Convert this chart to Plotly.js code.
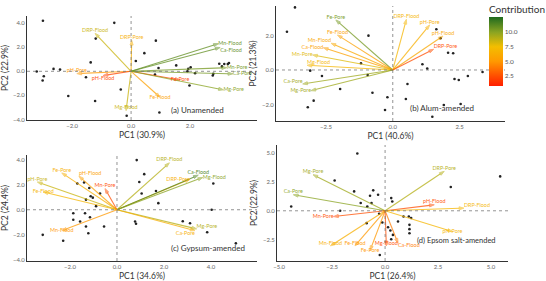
<!DOCTYPE html>
<html><head><meta charset="utf-8">
<script src="https://cdn.plot.ly/plotly-3.0.1.min.js"></script>
<style>html,body{margin:0;padding:0;background:#fff}#chart{width:546px;height:281px}</style>
</head><body><div id="chart"></div>
<script>
// ---------- Panel (a) Unamended ----------
const aNames = ['DRP-Flood','DRP-Pore','pH-Pore','pH-Flood','Mg-Flood','Fe-Flood','Fe-Pore','Mn-Flood','Ca-Flood','Mn-Pore','Ca-Pore','Mg-Pore'];
const aLoadX = [-1.22, 0.02, -1.84, -0.95, -0.17, 0.98, 1.66, 2.96, 3.02, 3.24, 3.45, 3.13];
const aLoadY = [3.16, 2.58, -0.19, -0.35, -3.27, -2.16, -0.72, 2.30, 1.98, 0.30, -0.21, -1.54];
const aContrib = [8.5, 6.5, 5.0, 2.2, 8.5, 5.5, 2.2, 11.0, 11.0, 10.5, 10.5, 10.0];
const aScoreX = [-2.99,-0.57,-1.20,0.84,0.45,0.16,-1.37,-2.63,-2.41,-3.20,-2.96,-3.00,-1.53,0.93,0.81,1.53,1.91,2.02,1.98,-2.13,-1.22,-0.35,-0.15,0.96,1.94,2.99,3.16,3.28,3.08,2.79,2.17,2.77,3.32];
const aScoreY = [4.20,4.03,2.72,2.55,1.51,0.86,0.74,0.20,0.14,-0.02,-0.41,-0.77,-0.49,0.28,-0.27,0.49,0.00,0.33,-1.18,-2.06,-2.47,-1.51,-3.70,-3.42,0.20,0.63,0.61,0.61,0.41,-0.21,-0.16,-0.35,0.69];

// ---------- Panel (b) Alum-amended ----------
const bNames = ['Fe-Pore','Fe-Flood','Mn-Flood','Ca-Flood','Mn-Pore','Mg-Flood','Ca-Pore','Mg-Pore','DRP-Flood','pH-Pore','pH-Flood','DRP-Pore'];
const bLoadX = [-2.13,-2.07,-2.31,-2.60,-3.00,-3.21,-3.37,-3.06,0.51,1.38,1.88,1.53];
const bLoadY = [2.90,2.03,1.55,1.29,0.87,0.27,-0.81,-1.20,2.94,2.61,1.97,1.20];
const bContrib = [10.5, 5.5, 6.0, 5.5, 8.0, 7.0, 9.5, 9.5, 7.0, 6.5, 6.0, 2.5];
const bScoreX = [-3.66,-3.96,-0.91,-1.19,-0.94,-2.65,-3.09,-1.97,-0.76,-2.96,-3.18,-0.20,0.49,-0.29,0.55,1.11,1.29,1.63,1.79,2.07,2.26,2.31,2.47,1.91,2.54,1.48,2.81,3.36];
const bScoreY = [3.63,2.22,1.99,0.39,-0.29,-0.35,-0.04,-1.10,-1.32,-1.78,-2.16,-1.58,-1.68,-2.32,-0.81,0.33,0.08,2.36,1.84,1.00,0.97,-0.52,-0.58,-2.03,-1.97,-2.71,-0.35,-0.12];

// ---------- Panel (c) Gypsum-amended ----------
const cNames = ['DRP-Flood','DRP-Pore','Ca-Flood','Mg-Flood','Mg-Pore','Ca-Pore','Fe-Pore','pH-Flood','Mn-Pore','pH-Pore','Fe-Flood','Mn-Flood'];
const cLoadX = [2.23, 3.10, 3.46, 3.65, 3.39, 3.32, -2.35, -1.62, -0.51, -3.39, -3.14, -2.35];
const cLoadY = [3.77, 2.45, 2.78, 2.59, -1.54, -1.68, 2.96, 2.70, 1.70, 2.23, 1.43, -1.68];
const cContrib = [9.0, 6.5, 11.5, 10.0, 9.0, 6.5, 6.5, 5.5, 2.5, 8.5, 7.0, 5.0];
const cScoreX = [0.84,1.16,0.95,1.05,1.66,1.76,0.77,0.81,-1.69,-1.40,-1.18,-1.12,-1.03,-1.32,-0.89,-0.72,-1.86,-1.86,-1.57,-1.36,-1.15,-1.32,-1.22,-0.55,-3.16,-2.29,2.80,3.11,4.10,4.03,5.06,3.84];
const cScoreY = [3.99,2.86,2.23,1.30,1.51,0.53,-0.95,-1.13,2.11,2.19,1.75,1.08,0.97,0.81,0.29,1.30,-0.28,-0.81,-0.95,-0.28,-0.60,-1.35,-1.89,-1.35,-2.02,-2.49,-0.92,-1.09,2.11,0.00,-2.70,-1.81];

// ---------- Panel (d) Epsom salt-amended ----------
const dNames = ['Mg-Pore','Ca-Pore','Mn-Pore','Mn-Flood','Fe-Flood','Fe-Pore','Mg-Flood','Ca-Flood','DRP-Pore','pH-Flood','DRP-Flood','pH-Pore'];
const dLoadX = [-3.40,-4.33,-2.43,-2.58,-1.42,-0.71,0.06,0.61,2.79,2.32,3.72,3.18];
const dLoadY = [3.13,1.39,-0.50,-3.04,-3.04,-3.45,-3.04,-2.81,3.42,0.52,0.23,-1.80];
const dContrib = [9.5, 10.0, 2.5, 6.5, 5.0, 5.0, 2.5, 4.0, 9.0, 2.5, 7.0, 7.0];
const dScoreX = [-1.31,-2.38,-1.46,-1.15,-0.71,-0.56,-0.33,-0.64,-0.84,0.29,0.34,-2.12,-0.87,-0.28,-0.13,0.14,0.25,0.37,0.87,1.12,1.23,1.15,1.15,1.15,0.61,0.29,-0.25,3.10,-4.43,5.43];
const dScoreY = [4.96,2.63,1.68,0.67,1.30,1.77,1.39,0.67,0.37,1.10,0.81,0.00,-1.07,-0.26,-1.02,-1.42,-1.71,-2.09,-0.50,-0.50,-0.63,-1.22,-1.59,-1.94,-0.93,-2.46,-3.83,2.06,0.37,2.98];

// ---------- tick labels / titles ----------
const aXTicks = [-2, 0, 2], aYTicks = [-4, -2, 0, 2, 4];
const bXTicks = [-2.5, 0, 2.5], bYTicks = [-2, 0, 2];
const cXTicks = [-2, 0, 2, 4], cYTicks = [-4, -2, 0, 2, 4];
const dXTicks = [-5, -2.5, 0, 2.5, 5], dYTicks = [-2.5, 0, 2.5, 5];
const cbTicks = [2.5, 5, 7.5, 10];
const pcTitles = {a:['PC1 (30.9%)','PC2 (22.9%)'], b:['PC1 (40.6%)','PC2 (21.3%)'], c:['PC1 (34.6%)','PC2 (24.4%)'], d:['PC1 (26.4%)','PC2 (22.9%)']};
const panelLabels = ['(a) Unamended','(b) Alum-amended','(c) Gypsum-amended','(d) Epsom salt-amended'];

// ---------- styles ----------
const FONT = 'Lato, "Liberation Sans", sans-serif';
const CMIN = 0.8, CMAX = 12.6;
const colorscale = [[0,'#ff1e00'],[0.15,'#ff5000'],[0.36,'#ff9a00'],[0.57,'#f3be00'],[0.78,'#8aa422'],[1,'#1f6a1f']];
function hex2rgb(h){return [parseInt(h.slice(1,3),16),parseInt(h.slice(3,5),16),parseInt(h.slice(5,7),16)];}
function colorOf(v){
  let t=(v-CMIN)/(CMAX-CMIN); t=Math.max(0,Math.min(1,t));
  for(let i=1;i<colorscale.length;i++){
    if(t<=colorscale[i][0]){
      const [t0,c0]=colorscale[i-1],[t1,c1]=colorscale[i];
      const f=(t-t0)/(t1-t0), a=hex2rgb(c0), b=hex2rgb(c1);
      return 'rgb('+a.map((x,k)=>Math.round(x+(b[k]-x)*f)).join(',')+')';
    }
  }
  return colorscale[colorscale.length-1][1];
}

const panels = [
  {key:'a', xa:'x',  ya:'y',  names:aNames, lx:aLoadX, ly:aLoadY, c:aContrib, sx:aScoreX, sy:aScoreY,
   pos:['top center','top center','top center','bottom center','top center','middle center','middle center','middle right','bottom right','middle right','middle right','middle right']},
  {key:'b', xa:'x2', ya:'y2', names:bNames, lx:bLoadX, ly:bLoadY, c:bContrib, sx:bScoreX, sy:bScoreY,
   pos:['top center','top center','top left','middle left','middle left','top right','top left','middle left','top center','top center','top center','top right']},
  {key:'c', xa:'x3', ya:'y3', names:cNames, lx:cLoadX, ly:cLoadY, c:cContrib, sx:cScoreX, sy:cScoreY,
   pos:['top center','middle left','top center','middle right','top right','bottom left','top center','top right','top center','top center','middle center','middle center']},
  {key:'d', xa:'x4', ya:'y4', names:dNames, lx:dLoadX, ly:dLoadY, c:dContrib, sx:dScoreX, sy:dScoreY,
   pos:['top center','top center','middle left','top center','top center','middle center','top center','bottom right','top center','top center','top right','middle center']}
];

const traces = [];
let first = true;
panels.forEach(p => {
  traces.push({type:'scatter', mode:'markers', x:p.sx, y:p.sy, xaxis:p.xa, yaxis:p.ya,
    marker:{size:2.6, color:'#222'}, hoverinfo:'skip', showlegend:false});
  p.names.forEach((n,i) => {
    const col = colorOf(p.c[i]);
    const tr = {type:'scatter', mode:'lines+markers', x:[0,p.lx[i]], y:[0,p.ly[i]], xaxis:p.xa, yaxis:p.ya,
      line:{color:col, width:1.1}, opacity:0.75, showlegend:false, hoverinfo:'skip',
      marker:{symbol:['circle','arrow'], size:[0,5], angleref:'previous', color:[p.c[i],p.c[i]],
              cmin:CMIN, cmax:CMAX, colorscale:colorscale, showscale:false}};
    if(first){
      tr.marker.showscale = true;
      tr.marker.colorbar = {x:489/546, xanchor:'left', y:1-51.5/281, yanchor:'middle', len:69/281, lenmode:'fraction',
        thickness:14, outlinewidth:0, xpad:0, ypad:0, tickvals:cbTicks, tickformat:'.1f', ticks:'',
        tickfont:{size:6.5, color:'#555', family:FONT}};
      first = false;
    }
    traces.push(tr);
  });
  traces.push({type:'scatter', mode:'text', x:p.lx, y:p.ly, text:p.names, textposition:p.pos, xaxis:p.xa, yaxis:p.ya,
    textfont:{size:5.4, family:FONT, color:p.c.map(colorOf)}, opacity:0.9, hoverinfo:'skip', showlegend:false});
});

function xax(dom, rng, ticks, title, anchor){
  return {domain:dom, range:rng, tickvals:ticks, tickformat:'.1f', anchor:anchor, showgrid:false, zeroline:false,
    showline:true, linecolor:'#333', linewidth:1, ticks:'', tickfont:{size:6, color:'#666', family:FONT},
    title:{text:title, font:{size:8.5, color:'#333', family:FONT}, standoff:3}, automargin:false};
}
const layout = {
  width:546, height:281, margin:{l:0,r:0,t:0,b:0}, paper_bgcolor:'#fff', plot_bgcolor:'rgba(0,0,0,0)',
  showlegend:false, font:{family:FONT},
  xaxis:  xax([27/546,257/546], [-3.53,4.27], aXTicks, pcTitles.a[0], 'y'),
  yaxis:  xax([1-120/281,1-16/281], [-4.05,4.6], aYTicks, pcTitles.a[1], 'x'),
  xaxis2: xax([276/546,505/546], [-4.37,4.2], bXTicks, pcTitles.b[0], 'y2'),
  yaxis2: xax([1-121/281,1-6/281], [-2.96,3.71], bYTicks, pcTitles.b[1], 'x2'),
  xaxis3: xax([27/546,257/546], [-3.83,5.96], cXTicks, pcTitles.c[0], 'y3'),
  yaxis3: xax([1-261/281,1-155/281], [-4.12,4.4], cYTicks, pcTitles.c[1], 'x3'),
  xaxis4: xax([277/546,508/546], [-5.1,5.8], dXTicks, pcTitles.d[0], 'y4'),
  yaxis4: xax([1-261/281,1-145/281], [-4.35,5.7], dYTicks, pcTitles.d[1], 'x4'),
  shapes: [], annotations: []
};
const labelPos = [[0.865,0.096],[0.873,0.113],[0.957,0.12],[0.955,0.181]];
const labelSize = [8, 8, 8, 7.5];
panels.forEach((p,k) => {
  const xr = p.xa, yr = p.ya;
  layout.shapes.push({type:'line', xref:xr, yref:yr+' domain', x0:0, x1:0, y0:0, y1:1, line:{color:'#777', width:0.8, dash:'dot'}});
  layout.shapes.push({type:'line', xref:xr+' domain', yref:yr, x0:0, x1:1, y0:0, y1:0, line:{color:'#777', width:0.8, dash:'dot'}});
  layout.annotations.push({xref:xr+' domain', yref:yr+' domain', x:labelPos[k][0], y:labelPos[k][1], xanchor:'right', yanchor:'middle',
    text:panelLabels[k], showarrow:false, font:{size:labelSize[k], color:'#333', family:FONT}});
});
layout.annotations.push({xref:'paper', yref:'paper', x:487/546, y:1-1/281, xanchor:'left', yanchor:'top', text:'Contribution',
  showarrow:false, font:{size:10, color:'#333', family:FONT}});

Plotly.newPlot('chart', traces, layout, {staticPlot:true, displayModeBar:false});
</script></body></html>
